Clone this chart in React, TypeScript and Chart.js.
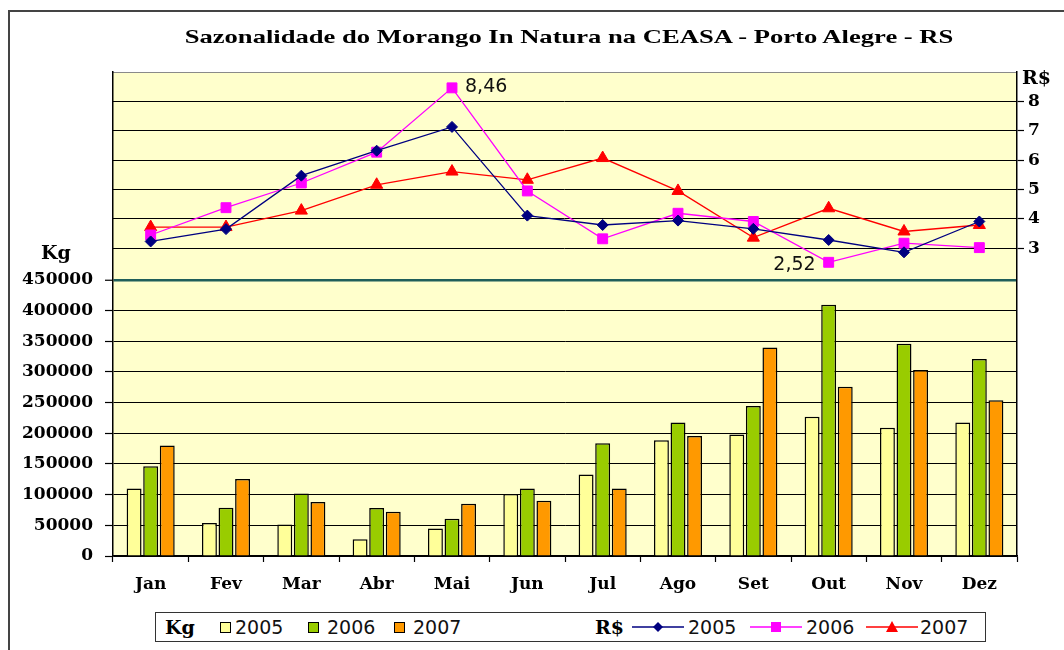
import React, { useEffect, useRef } from "react";
import { Chart, registerables } from "chart.js";

Chart.register(...registerables);

const titleText = "Sazonalidade do Morango In Natura na CEASA - Porto Alegre - RS";
const months = ["Jan", "Fev", "Mar", "Abr", "Mai", "Jun", "Jul", "Ago", "Set", "Out", "Nov", "Dez"];
const years = ["2005", "2006", "2007"];

const kg2005 = [110000, 53600, 51500, 27500, 45000, 101000, 132700, 188800, 198100, 226900, 208900, 217700];
const kg2006 = [146300, 78800, 101700, 78100, 60800, 110000, 183900, 217700, 244400, 409400, 346200, 321200];
const kg2007 = [180100, 125500, 88000, 72200, 85300, 90200, 110000, 195800, 339700, 275900, 303200, 253700];

const rs2005 = [3.23, 3.65, 5.47, 6.32, 7.13, 4.11, 3.79, 3.94, 3.66, 3.28, 2.86, 3.91];
const rs2006 = [3.45, 4.38, 5.22, 6.27, 8.46, 4.95, 3.32, 4.19, 3.91, 2.52, 3.17, 3.02];
const rs2007 = [3.72, 3.72, 4.28, 5.16, 5.61, 5.33, 6.07, 4.95, 3.36, 4.36, 3.57, 3.79];

const kgTicks = [0, 50000, 100000, 150000, 200000, 250000, 300000, 350000, 400000, 450000];
const rsTicks = [3, 4, 5, 6, 7, 8];
const kgMax = 789000;
const rsMin = -7.48;
const rsMax = 9;

const kgLabel = "Kg";
const rsLabel = "R$";

const barColors = ["#FFFF99", "#99CC00", "#FF9900"];
const lineColors = ["#000080", "#FF00FF", "#FF0000"];
const pointStyles = ["rectRot", "rect", "triangle"];
const pointRadii = [5.5, 7, 7];

const fmt = (v: number) => v.toFixed(2).replace(".", ",");

export default function App() {
  const ref = useRef<HTMLCanvasElement>(null);

  useEffect(() => {
    const canvas = ref.current;
    if (!canvas) return;

    const decor = {
      id: "decor",
      beforeDraw(chart: any) {
        const { ctx, chartArea: a } = chart;
        ctx.save();
        ctx.fillStyle = "#FFFFCC";
        ctx.fillRect(a.left, a.top, a.right - a.left, a.bottom - a.top);
        ctx.strokeStyle = "#8a8a8a";
        ctx.lineWidth = 1;
        ctx.beginPath();
        ctx.moveTo(a.left, a.top + 0.5);
        ctx.lineTo(a.right, a.top + 0.5);
        ctx.stroke();
        ctx.restore();
      },
      afterDraw(chart: any) {
        const ctx = chart.ctx;
        const yb = chart.scales.yBar;
        const yl = chart.scales.yLine;
        ctx.save();
        ctx.fillStyle = "#000";
        ctx.font = "bold 19px 'DejaVu Serif'";
        ctx.textBaseline = "middle";
        ctx.textAlign = "center";
        ctx.fillText(kgLabel, yb.left + 48, yb.getPixelForValue(kgTicks[kgTicks.length - 1]) - 26);
        ctx.textAlign = "left";
        ctx.fillText(rsLabel, yl.left + 5, yl.getPixelForValue(rsTicks[rsTicks.length - 1]) - 22);

        // data labels on 2006 price series (max and min)
        ctx.font = "19px 'DejaVu Sans'";
        ctx.fillStyle = "#111";
        const meta = chart.getDatasetMeta(4);
        const iMax = rs2006.indexOf(Math.max(...rs2006));
        const iMin = rs2006.indexOf(Math.min(...rs2006));
        const pMax = meta.data[iMax];
        const pMin = meta.data[iMin];
        ctx.textAlign = "left";
        ctx.fillText(fmt(rs2006[iMax]), pMax.x + 13, pMax.y - 1);
        ctx.textAlign = "right";
        ctx.fillText(fmt(rs2006[iMin]), pMin.x - 13, pMin.y + 3);
        ctx.restore();
      },
    };

    const barSets = [kg2005, kg2006, kg2007].map((d, i) => ({
      type: "bar" as const,
      label: years[i],
      data: d,
      yAxisID: "yBar",
      backgroundColor: barColors[i],
      borderColor: "#000",
      borderWidth: 1.5,
      barPercentage: 0.9,
      categoryPercentage: 0.66,
    }));
    const lineSets = [rs2005, rs2006, rs2007].map((d, i) => ({
      type: "line" as const,
      label: years[i],
      data: d,
      yAxisID: "yLine",
      borderColor: lineColors[i],
      backgroundColor: lineColors[i],
      borderWidth: 1.3,
      pointStyle: pointStyles[i],
      pointRadius: pointRadii[i],
      pointBackgroundColor: lineColors[i],
      pointBorderColor: lineColors[i],
      pointBorderWidth: 1,
      fill: false,
      tension: 0,
    }));

    const tickFont = { family: "'DejaVu Serif'", weight: "bold" as const, size: 17 };

    const chart = new Chart(canvas, {
      type: "bar",
      data: { labels: months, datasets: [...barSets, ...lineSets] as any },
      options: {
        animation: false,
        responsive: true,
        maintainAspectRatio: false,
        layout: { padding: { left: 8, top: 72, right: 0, bottom: 0 } },
        plugins: { legend: { display: false }, tooltip: { enabled: false }, title: { display: false } },
        scales: {
          x: {
            offset: true,
            grid: {
              offset: true,
              drawOnChartArea: false,
              drawTicks: true,
              tickLength: 6,
              tickColor: "#000",
              tickWidth: 1.2,
            },
            border: { display: true, color: "#000", width: 1.5 },
            ticks: { color: "#000", font: tickFont, padding: 12, maxRotation: 0 },
            afterFit(scale: any) {
              scale.height = 94;
            },
          },
          yBar: {
            position: "left",
            min: 0,
            max: kgMax,
            afterBuildTicks(scale: any) {
              scale.ticks = kgTicks.map((v) => ({ value: v }));
            },
            afterFit(scale: any) {
              scale.width = 105;
            },
            ticks: { color: "#000", font: tickFont, padding: 12, callback: (v: any) => String(v) },
            grid: {
              color: (c: any) => (c.tick && c.tick.value === 450000 ? "#1F5F5A" : "#000"),
              lineWidth: (c: any) => (c.tick && c.tick.value === 450000 ? 2.5 : 1),
              tickColor: "#000",
              tickLength: 8,
              tickWidth: 1.2,
            },
            border: { display: true, color: "#000", width: 1.5 },
          },
          yLine: {
            position: "right",
            min: rsMin,
            max: rsMax,
            afterBuildTicks(scale: any) {
              scale.ticks = rsTicks.map((v) => ({ value: v }));
            },
            afterFit(scale: any) {
              scale.width = 47;
            },
            ticks: { color: "#000", font: tickFont, padding: 4, callback: (v: any) => String(v) },
            grid: {
              color: "#000",
              lineWidth: 1,
              tickColor: "#000",
              tickLength: 7,
              tickWidth: 1.2,
            },
            border: { display: true, color: "#000", width: 1.5 },
          },
        },
      },
      plugins: [decor],
    });

    return () => chart.destroy();
  }, []);

  const legendText: React.CSSProperties = {
    position: "absolute",
    top: 0,
    lineHeight: "28px",
    fontFamily: "'DejaVu Sans'",
    fontSize: 19,
    color: "#111",
    whiteSpace: "nowrap",
  };
  const legendBold: React.CSSProperties = {
    ...legendText,
    fontFamily: "'DejaVu Serif'",
    fontWeight: "bold",
    color: "#000",
  };
  const squareLeft = [64, 152, 238];
  const squareTextLeft = [79, 171, 257];
  const lineLeft = [476, 594, 710];
  const lineTextLeft = [532, 650, 764];

  const marker = (i: number) => {
    if (i === 0) return <polygon points="26,1 31,6 26,11 21,6" fill={lineColors[0]} />;
    if (i === 1) return <rect x={21} y={1} width={10} height={10} fill={lineColors[1]} />;
    return <polygon points="26,0 32,11 20,11" fill={lineColors[2]} />;
  };

  return (
    <div style={{ position: "absolute", left: 0, top: 0, width: 1064, height: 650, overflow: "hidden", background: "#fff" }}>
      <div
        style={{
          position: "absolute",
          left: 8,
          top: 10,
          width: 1100,
          height: 700,
          border: "2px solid #444",
          boxSizing: "border-box",
        }}
      />
      <div style={{ position: "absolute", left: 0, top: 0, width: 1064, height: 650 }}>
        <canvas ref={ref} />
      </div>
      <div
        style={{
          position: "absolute",
          left: 569,
          top: 27,
          transform: "translateX(-50%) scaleX(1.40)",
          fontFamily: "'Liberation Serif'",
          fontWeight: "bold",
          fontSize: 19,
          lineHeight: "20px",
          whiteSpace: "nowrap",
          color: "#000",
        }}
      >
        {titleText}
      </div>
      <div
        style={{
          position: "absolute",
          left: 155,
          top: 612,
          width: 831,
          height: 30,
          border: "1.5px solid #333",
          boxSizing: "border-box",
          background: "#fff",
        }}
      >
        <span style={{ ...legendBold, left: 9 }}>{kgLabel}</span>
        {years.map((y, i) => (
          <React.Fragment key={"b" + y}>
            <span
              style={{
                position: "absolute",
                left: squareLeft[i],
                top: 9,
                width: 11,
                height: 11,
                boxSizing: "border-box",
                border: "1px solid #000",
                background: barColors[i],
              }}
            />
            <span style={{ ...legendText, left: squareTextLeft[i] }}>{y}</span>
          </React.Fragment>
        ))}
        <span style={{ ...legendBold, left: 439 }}>{rsLabel}</span>
        {years.map((y, i) => (
          <React.Fragment key={"l" + y}>
            <svg
              width={52}
              height={12}
              style={{ position: "absolute", left: lineLeft[i], top: 8 }}
            >
              <line x1={0} y1={6} x2={52} y2={6} stroke={lineColors[i]} strokeWidth={1.5} />
              {marker(i)}
            </svg>
            <span style={{ ...legendText, left: lineTextLeft[i] }}>{y}</span>
          </React.Fragment>
        ))}
      </div>
    </div>
  );
}
